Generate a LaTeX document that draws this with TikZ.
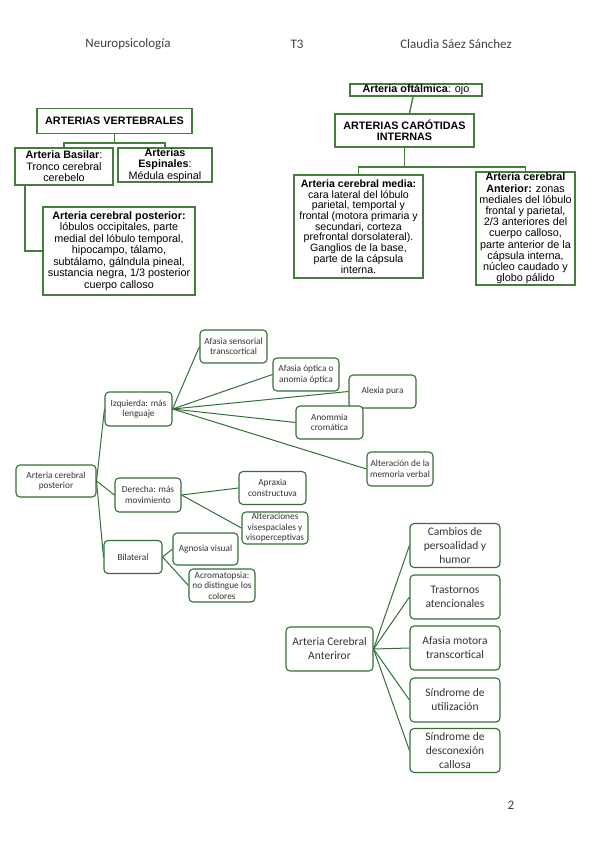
\documentclass[tikz,border=0pt]{standalone}
\usepackage{fontspec}
\setmainfont{Carlito}
\newfontfamily\arialfont{Liberation Sans}
\definecolor{boxgreen}{RGB}{66,128,58}
\definecolor{treegreen}{RGB}{50,112,54}

\begin{document}
\begin{tikzpicture}[x=1pt,y=-1pt,
  header/.style={font=\fontsize{13}{15}\selectfont,text=black!75},
  sqbox/.style={draw=boxgreen,line width=1.4pt,inner sep=0pt,align=center,fill=white,
    font=\arialfont\fontsize{10.8}{11.5}\selectfont},
  link/.style={draw=boxgreen,line width=1.4pt},
  leaf/.style={draw=treegreen,line width=1.1pt,rounded corners=4pt,inner sep=0pt,fill=white,
    text=black!80,align=center,font=\fontsize{9.3}{10.5}\selectfont,minimum width=66pt,minimum height=33pt},
  bigleaf/.style={leaf,font=\fontsize{11.5}{14}\selectfont,minimum width=90pt,minimum height=44pt},
  branch/.style={draw=treegreen,line width=1pt}]
  \useasboundingbox (0,0) rectangle (599,848);

  % page header
  \node[header] (curso) at (128,44) {Neuropsicología};
  \node[header] (tema) at (297,44) {T3};
  \node[header] (autora) at (456,44) {Claudia Sáez Sánchez};

  % arterias vertebrales
  \node[sqbox,minimum width=155pt,minimum height=25pt] (vert) at (114.5,121) {\textbf{ARTERIAS VERTEBRALES}};
  \node[sqbox,minimum width=98pt,minimum height=37pt] (basilar) at (64,166.5)
    {\textbf{Arteria Basilar}:\\Tronco cerebral\\cerebelo};
  \node[sqbox,minimum width=94pt,minimum height=34pt] (espinales) at (165,165)
    {\textbf{Arterias}\\\textbf{Espinales}:\\Médula espinal};
  \node[sqbox,minimum width=152pt,minimum height=88pt] (posterior) at (119,251)
    {\textbf{Arteria cerebral posterior:}\\lóbulos occipitales, parte\\medial del lóbulo temporal,\\hipocampo, tálamo,\\subtálamo, gálndula pineal,\\sustancia negra, 1/3 posterior\\cuerpo calloso};

  \coordinate (vj) at (114.5,143);
  \draw[link] (vert.south) -- (vj);
  \draw[link] (basilar.north) |- (vj) -| (espinales.north);
  \draw[link] ([xshift=-39pt]basilar.south) |- (posterior.west);

  % arterias carotidas internas
  \node[sqbox,minimum width=132pt,minimum height=12pt] (oft) at (416,90) {\textbf{Arteria oftálmica}: ojo};
  \node[sqbox,minimum width=139pt,minimum height=33pt] (car) at (404.5,130.5)
    {\textbf{ARTERIAS CARÓTIDAS}\\\textbf{INTERNAS}};
  \node[sqbox,minimum width=129pt,minimum height=103pt,font=\arialfont\fontsize{10.6}{10.7}\selectfont] (media) at (358.5,226.5)
    {\textbf{Arteria cerebral media:}\\cara lateral del lóbulo\\parietal, temportal y\\frontal (motora primaria y\\secundari, corteza\\prefrontal dorsolateral).\\Ganglios de la base,\\parte de la cápsula\\interna.};
  \node[sqbox,minimum width=99pt,minimum height=113pt,font=\arialfont\fontsize{10.8}{11.2}\selectfont] (anterior) at (525.5,228.5)
    {\textbf{Arteria cerebral}\\\textbf{Anterior:} zonas\\mediales del lóbulo\\frontal y parietal,\\2/3 anteriores del\\cuerpo calloso,\\parte anterior de la\\cápsula interna,\\núcleo caudado y\\globo pálido};

  \coordinate (cj) at (404.5,167);
  \draw[link] ([xshift=-3pt]oft.south) -- ([xshift=5pt]car.north);
  \draw[link] (car.south) -- (cj);
  \draw[link] (media.north) |- (cj) -| (anterior.north);

  % arbol de la arteria cerebral posterior
  \node[leaf,minimum width=80pt,minimum height=32pt] (acp) at (56,481) {Arteria cerebral\\posterior};
  \node[leaf,minimum width=67pt,minimum height=34pt] (izq) at (138.5,409) {Izquierda: más\\lenguaje};
  \node[leaf,minimum height=34pt] (der) at (148,495) {Derecha: más\\movimiento};
  \node[leaf,minimum width=58pt] (bil) at (133,557) {Bilateral};

  \node[leaf,minimum width=67pt] (afsens) at (233.5,346.5) {Afasia sensorial\\transcortical};
  \node[leaf] (afopt) at (306,374.5) {Afasia óptica o\\anomia óptica};
  \node[leaf,minimum width=67pt] (alexia) at (382.5,391.5) {Alexia pura};
  \node[leaf,minimum width=67pt] (anommia) at (329.5,422.5) {Anommia\\cromática};
  \node[leaf,minimum height=34pt] (altmem) at (400,469) {Alteración de la\\memoria verbal};
  \node[leaf,minimum width=67pt] (apraxia) at (272.5,488) {Apraxia\\constructuva};
  \node[leaf,minimum height=32pt] (altvis) at (275,528) {Alteraciones\\visespaciales y\\visoperceptivas};
  \node[leaf,minimum width=65pt,minimum height=32pt] (agnosia) at (205.5,549) {Agnosia visual};
  \node[leaf] (acroma) at (222,585.5) {Acromatopsia:\\no distingue los\\colores};

  \foreach \side in {izq,der,bil}
    \draw[branch] (acp.east) -- (\side.west);
  \foreach \sintoma in {afsens,afopt,alexia,anommia,altmem}
    \draw[branch] (izq.east) -- (\sintoma.west);
  \foreach \sintoma in {apraxia,altvis}
    \draw[branch] (der.east) -- (\sintoma.west);
  \foreach \sintoma in {agnosia,acroma}
    \draw[branch] (bil.east) -- (\sintoma.west);

  % arbol de la arteria cerebral anterior
  \node[bigleaf,minimum width=87pt] (aca) at (329.5,649) {Arteria Cerebral\\Anteriror};
  \foreach \name/\y/\txt in {cambios/545.5/{Cambios de\\persoalidad y\\humor},
      trast/597/{Trastornos\\atencionales},
      afmot/648/{Afasia motora\\transcortical},
      sindut/700/{Síndrome de\\utilización},
      sinddes/750.5/{Síndrome de\\desconexión\\callosa}}
  {
    \node[bigleaf] (\name) at (455,\y) {\txt};
    \draw[branch] (aca.east) -- (\name.west);
  }

  % page number
  \node[header] (pagina) at (511,805) {2};
\end{tikzpicture}
\end{document}
